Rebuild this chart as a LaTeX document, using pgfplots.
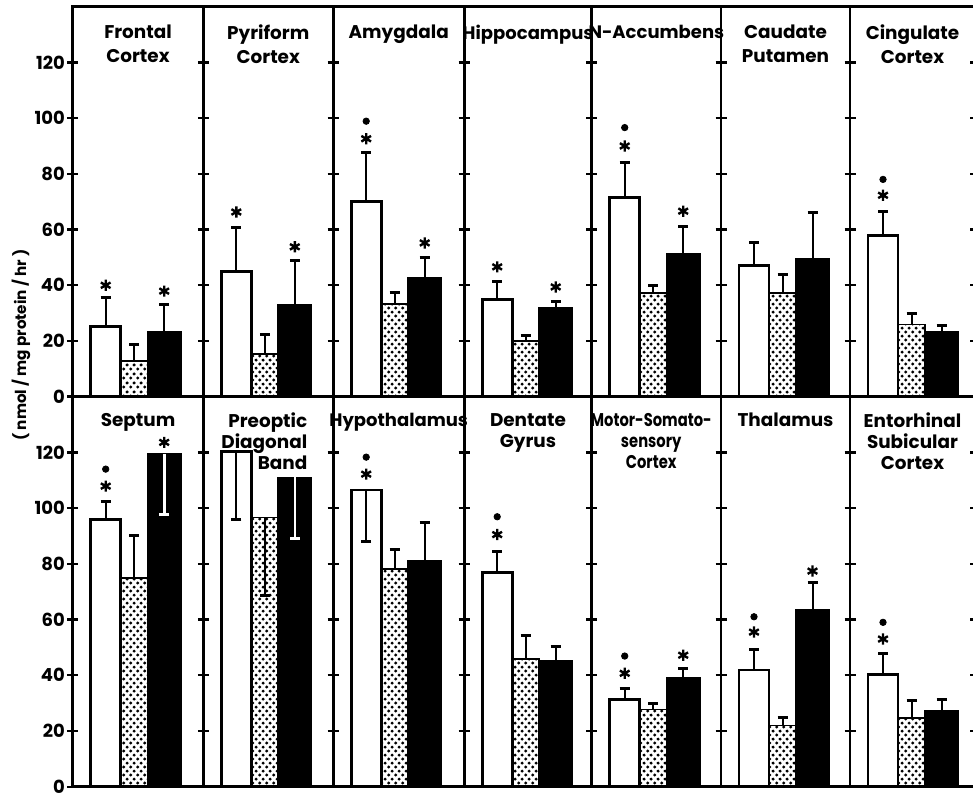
\documentclass[border=0pt]{standalone}
\usepackage{pgfplots}
\pgfplotsset{compat=1.18}
\usepackage{fontspec}
\setmainfont{Poppins}
\usetikzlibrary{patterns}
\pgfdeclarepatternformonly{mydots}{\pgfqpoint{0pt}{0pt}}{\pgfqpoint{3.4pt}{4.2pt}}{\pgfqpoint{3.4pt}{4.2pt}}{%
  \pgfpathcircle{\pgfqpoint{0.85pt}{1.05pt}}{0.85pt}%
  \pgfpathcircle{\pgfqpoint{2.55pt}{3.15pt}}{0.85pt}%
  \pgfusepath{fill}}
\pgfplotsset{
  P/.style={scale only axis, height=195pt, anchor=south west, xmin=0, ymin=0, ymax=140,
    clip=false, xtick=\empty, ytick={20,40,...,120}, yticklabels={},
    tick align=center, major tick length=5.5pt, ytick pos=left,
    axis line style={line width=1.3pt},
    tick style={line width=1.2pt, black, draw=black},
    /pgf/number format/assume math mode=true,
    yticklabel style={font=\fontsize{9}{10}\selectfont\bfseries, inner sep=0.5pt, xshift=-0.5pt}},
  first/.style={ytick={0,20,...,120}, yticklabels={0,20,40,60,80,100,120}},
  last/.style={ytick pos=both},
  wbar/.style={ybar, bar width=30, bar shift=0pt, fill=white, draw=black, line width=1.4pt},
  dbar/.style={ybar, bar width=27, bar shift=0pt, pattern=mydots, draw=black, line width=0.9pt},
  bbar/.style={ybar, bar width=33, bar shift=0pt, fill=black, draw=black, line width=0.9pt},
  eu/.style={error bars/.cd, y dir=plus, y explicit, error bar style={line width=1pt, black, solid},
    error mark options={rotate=90, black, line width=1.5pt, mark size=2.5pt}},
  ed/.style={error bars/.cd, y dir=minus, y explicit, error bar style={line width=1pt, black, solid},
    error mark options={rotate=90, black, line width=1.5pt, mark size=2.5pt}},
  edw/.style={error bars/.cd, y dir=minus, y explicit, error bar style={line width=1.3pt, white, solid},
    error mark options={rotate=90, white, line width=1.7pt, mark size=2.5pt}},
  star/.style={only marks, mark=asterisk, mark size=2.8pt, line width=1.2pt, black},
  sdot/.style={only marks, mark=*, mark size=1.6pt, black},
}
\tikzset{ttl/.style={anchor=north, align=center, inner sep=0pt, font=\fontsize{9.2}{12}\selectfont\bfseries},
  ttlb/.style={anchor=north, align=center, inner sep=0pt, font=\fontsize{9.2}{10.5}\selectfont\bfseries}}
\begin{document}
\begin{tikzpicture}
\path[use as bounding box] (0,0) rectangle (486.5pt,396pt);
% ---------------- top row ----------------
\begin{axis}[P, first, at={(36.35pt,197.65pt)}, width=65.3pt, xmax=130.6]
\addplot[wbar, eu] coordinates {(33,25.3) +- (0,10.2)};
\addplot[dbar, eu] coordinates {(61.5,12.8) +- (0,6.0)};
\addplot[bbar, eu] coordinates {(91.5,23.1) +- (0,10.0)};
\addplot[star] coordinates {(33,40.0) (91.5,37.9)};
\node[ttl] at (rel axis cs:0.5,0.954) {Frontal\\Cortex};
\end{axis}
\begin{axis}[P, at={(101.65pt,197.65pt)}, width=64.95pt, xmax=129.9]
\addplot[wbar, eu] coordinates {(33,44.8) +- (0,16.1)};
\addplot[dbar, eu] coordinates {(61.5,15.3) +- (0,7.1)};
\addplot[bbar, eu] coordinates {(91.5,33.1) +- (0,15.9)};
\addplot[star] coordinates {(33,66.3) (91.5,53.8)};
\node[ttl] at (rel axis cs:0.5,0.954) {Pyriform\\Cortex};
\end{axis}
\begin{axis}[P, at={(166.6pt,197.65pt)}, width=65.5pt, xmax=131]
\addplot[wbar, eu] coordinates {(33,70.1) +- (0,17.4)};
\addplot[dbar, eu] coordinates {(61.5,33.2) +- (0,4.1)};
\addplot[bbar, eu] coordinates {(91.5,42.6) +- (0,7.2)};
\addplot[star] coordinates {(33,92.6) (91.5,55.2)};
\addplot[sdot] coordinates {(33,98.9)};
\node[ttl] at (rel axis cs:0.5,0.954) {Amygdala};
\end{axis}
\begin{axis}[P, at={(232.1pt,197.65pt)}, width=63.75pt, xmax=127.5]
\addplot[wbar, eu] coordinates {(33,35.0) +- (0,6.2)};
\addplot[dbar, eu] coordinates {(61.5,20.0) +- (0,1.9)};
\addplot[bbar, eu] coordinates {(91.5,31.9) +- (0,2.1)};
\addplot[star] coordinates {(33,46.6) (91.5,39.4)};
\node[ttl, font=\fontsize{9}{12}\selectfont\bfseries] at (rel axis cs:0.5,0.954) {Hippocampus};
\end{axis}
\begin{axis}[P, at={(295.85pt,197.65pt)}, width=64.65pt, xmax=129.3]
\addplot[wbar, eu] coordinates {(33,71.6) +- (0,12.4)};
\addplot[dbar, eu] coordinates {(61.5,37.3) +- (0,2.7)};
\addplot[bbar, eu] coordinates {(91.5,51.1) +- (0,10.1)};
\addplot[star] coordinates {(33,90.0) (91.5,66.6)};
\addplot[sdot] coordinates {(33,96.6)};
\node[ttl, font=\fontsize{9}{12}\selectfont\bfseries] at (rel axis cs:0.5,0.954) {N-Accumbens};
\end{axis}
\begin{axis}[P, at={(360.5pt,197.65pt)}, width=64.5pt, xmax=129]
\addplot[wbar, eu] coordinates {(33,47.2) +- (0,8.0)};
\addplot[dbar, eu] coordinates {(61.5,37.3) +- (0,6.7)};
\addplot[bbar, eu] coordinates {(91.5,49.6) +- (0,16.5)};
\node[ttl] at (rel axis cs:0.5,0.954) {Caudate\\Putamen};
\end{axis}
\begin{axis}[P, last, at={(425pt,197.65pt)}, width=62.5pt, xmax=125]
\addplot[wbar, eu] coordinates {(33,57.8) +- (0,8.6)};
\addplot[dbar, eu] coordinates {(61.5,25.9) +- (0,4.0)};
\addplot[bbar, eu] coordinates {(91.5,23.1) +- (0,2.6)};
\addplot[star] coordinates {(33,72.3)};
\addplot[sdot] coordinates {(33,78.0)};
\node[ttl] at (rel axis cs:0.5,0.954) {Cingulate\\Cortex};
\end{axis}
% ---------------- bottom row ----------------
\begin{axis}[P, first, at={(36.35pt,2.65pt)}, width=65.3pt, xmax=130.6]
\addplot[wbar, eu] coordinates {(33,95.9) +- (0,6.4)};
\addplot[dbar, eu] coordinates {(61.5,75.0) +- (0,15.3)};
\addplot[bbar, edw] coordinates {(91.5,119.5) +- (0,21.7)};
\addplot[star] coordinates {(33,107.9) (91.5,123.6)};
\addplot[sdot] coordinates {(33,114.0)};
\node[ttlb] at (rel axis cs:0.5,0.959) {Septum};
\end{axis}
\begin{axis}[P, at={(101.65pt,2.65pt)}, width=64.95pt, xmax=129.9]
\addplot[wbar, ed] coordinates {(33,120.4) +- (0,24.4)};
\addplot[dbar, ed] coordinates {(61.5,96.6) +- (0,28.0)};
\addplot[bbar, edw] coordinates {(91.5,111.0) +- (0,21.9)};
\node[ttlb, align=right] at (rel axis cs:0.47,0.959) {Preoptic\\Diagonal\\Band};
\end{axis}
\begin{axis}[P, at={(166.6pt,2.65pt)}, width=65.5pt, xmax=131]
\addplot[wbar, ed] coordinates {(33,106.5) +- (0,18.4)};
\addplot[dbar, eu] coordinates {(61.5,78.2) +- (0,6.9)};
\addplot[bbar, eu] coordinates {(91.5,80.9) +- (0,13.9)};
\addplot[star] coordinates {(33,112.2)};
\addplot[sdot] coordinates {(33,118.3)};
\node[ttlb, font=\fontsize{9}{10.5}\selectfont\bfseries] at (rel axis cs:0.5,0.959) {Hypothalamus};
\end{axis}
\begin{axis}[P, at={(232.1pt,2.65pt)}, width=63.75pt, xmax=127.5]
\addplot[wbar, eu] coordinates {(33,76.9) +- (0,7.7)};
\addplot[dbar, eu] coordinates {(61.5,45.7) +- (0,8.5)};
\addplot[bbar, eu] coordinates {(91.5,45.1) +- (0,5.4)};
\addplot[star] coordinates {(33,90.5)};
\addplot[sdot] coordinates {(33,96.9)};
\node[ttlb] at (rel axis cs:0.5,0.959) {Dentate\\Gyrus};
\end{axis}
\begin{axis}[P, at={(295.85pt,2.65pt)}, width=64.65pt, xmax=129.3]
\addplot[wbar, eu] coordinates {(33,31.3) +- (0,3.9)};
\addplot[dbar, eu] coordinates {(61.5,27.7) +- (0,2.2)};
\addplot[bbar, eu] coordinates {(91.5,39.0) +- (0,3.4)};
\addplot[star] coordinates {(33,40.7) (91.5,47.2)};
\addplot[sdot] coordinates {(33,46.9)};
\node[ttlb, xscale=0.8] at (rel axis cs:0.46,0.959) {Motor-Somato-\\sensory\\Cortex};
\end{axis}
\begin{axis}[P, at={(360.5pt,2.65pt)}, width=64.5pt, xmax=129]
\addplot[wbar, eu] coordinates {(33,41.9) +- (0,7.2)};
\addplot[dbar, eu] coordinates {(61.5,22.0) +- (0,2.7)};
\addplot[bbar, eu] coordinates {(91.5,63.5) +- (0,9.9)};
\addplot[star] coordinates {(33,55.5) (91.5,77.4)};
\addplot[sdot] coordinates {(33,61.0)};
\node[ttlb] at (rel axis cs:0.5,0.959) {Thalamus};
\end{axis}
\begin{axis}[P, last, at={(425pt,2.65pt)}, width=62.5pt, xmax=125]
\addplot[wbar, eu] coordinates {(33,40.3) +- (0,7.4)};
\addplot[dbar, eu] coordinates {(61.5,24.7) +- (0,6.2)};
\addplot[bbar, eu] coordinates {(91.5,27.1) +- (0,4.2)};
\addplot[star] coordinates {(33,53.0)};
\addplot[sdot] coordinates {(33,59.0)};
\node[ttlb] at (rel axis cs:0.5,0.959) {Entorhinal\\Subicular\\Cortex};
\end{axis}
\node[rotate=90, inner sep=0pt, font=\fontsize{7.6}{9}\selectfont\bfseries] at (10.5pt,223.5pt) {( nmol / mg protein / hr )};
\end{tikzpicture}
\end{document}
